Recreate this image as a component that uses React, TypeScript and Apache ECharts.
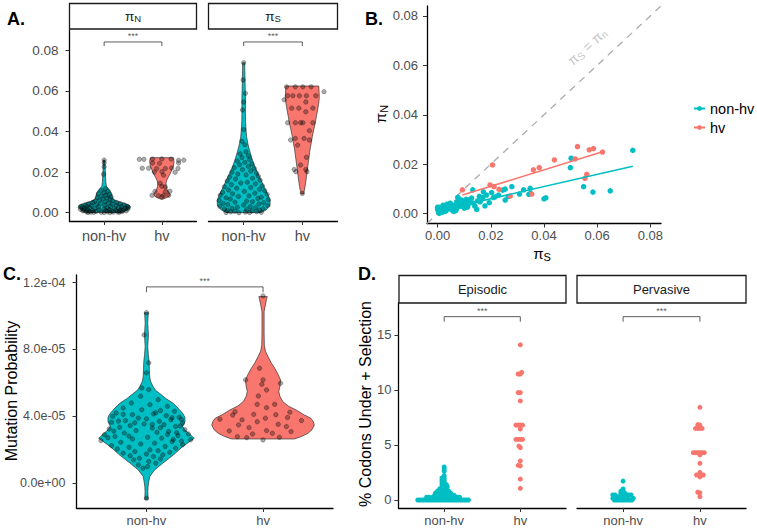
import React, { useEffect, useRef } from 'react';
import * as echarts from 'echarts';

const TEAL = '#00BFC4';
const RED = '#F8766D';
const FONT = "'Liberation Sans', Arial, Helvetica, sans-serif";

const CATS = ['non-hv', 'hv'];
const PI_TICKS = [0, 0.02, 0.04, 0.06, 0.08];
const MUT_TICKS = [0, 4e-5, 8e-5, 1.2e-4];
const PCT_TICKS = [0, 5, 10, 15];

// ---------- Panel A: violin outlines [value, half width in category units] ----------
const violinPiNNonhv = [[0.0001,0.32],[0.0008,0.37],[0.0015,0.41],[0.0025,0.45],[0.0035,0.44],[0.0045,0.36],[0.0055,0.24],[0.0065,0.16],[0.008,0.14],[0.0095,0.13],[0.011,0.10],[0.012,0.07],[0.013,0.04],[0.015,0.03],[0.018,0.025],[0.022,0.018],[0.0259,0.01]];
const violinPiNHv = [[0.0066,0.01],[0.0071,0.06],[0.0080,0.12],[0.0090,0.14],[0.0100,0.12],[0.0115,0.09],[0.0130,0.075],[0.0145,0.072],[0.0160,0.085],[0.0177,0.115],[0.0195,0.15],[0.0210,0.17],[0.0230,0.2],[0.0250,0.21],[0.0265,0.205],[0.0271,0.2]];
const violinPiSNonhv = [[0.0000,0.29],[0.0013,0.38],[0.0037,0.45],[0.0062,0.45],[0.0085,0.42],[0.0103,0.39],[0.0125,0.35],[0.0145,0.32],[0.0170,0.28],[0.0194,0.24],[0.0220,0.2],[0.0243,0.17],[0.0268,0.14],[0.0293,0.115],[0.0318,0.09],[0.0342,0.07],[0.0375,0.05],[0.0408,0.04],[0.0450,0.032],[0.0489,0.03],[0.0530,0.03],[0.0571,0.03],[0.0610,0.026],[0.0654,0.023],[0.0700,0.02],[0.0739,0.017]];
const violinPiSHv = [[0.0092,0.02],[0.0110,0.035],[0.0128,0.046],[0.0150,0.058],[0.0177,0.07],[0.0210,0.085],[0.0243,0.10],[0.0275,0.115],[0.0309,0.13],[0.0340,0.15],[0.0374,0.17],[0.0410,0.195],[0.0440,0.22],[0.0475,0.24],[0.0506,0.26],[0.0540,0.28],[0.0571,0.29],[0.0600,0.285],[0.0624,0.28]];

// ---------- Panel A: points [jitter, value] ----------
const piNNonhv = [[0,0.0259],[0,0.0246],[0,0.0226],[-0.01,0.0189],[0.02,0.0118],[-0.05,0.0110],[0.06,0.0104],[0,0.0098],[-0.10,0.0093],[0.09,0.0090],[0.03,0.0086],[-0.04,0.0082],[0.12,0.0078],[-0.12,0.0075],[0.05,0.0072],[-0.02,0.0068],[0.10,0.0065],[-0.08,0.0062],[0.15,0.0058],[-0.16,0.0056],[0.02,0.0054],[0.22,0.0050],[-0.20,0.0050],[0.08,0.0048],[-0.06,0.0046],[0.28,0.0044],[-0.27,0.0043],[0.14,0.0042],[-0.13,0.0041],[0.35,0.0038],[-0.33,0.0037],[0.01,0.0037],[0.21,0.0036],[-0.22,0.0035],[0.40,0.0032],[-0.40,0.0031],[0.30,0.0030],[-0.30,0.0030],[0.11,0.0029],[-0.10,0.0028],[0.42,0.0027],[-0.38,0.0026],[0.25,0.0025],[-0.25,0.0024],[0.05,0.0024],[0.36,0.0022],[-0.34,0.0021],[0.18,0.0020],[-0.17,0.0020],[0,0.0019],[0.41,0.0018],[-0.41,0.0017],[0.29,0.0016],[-0.29,0.0016],[0.09,0.0015],[-0.09,0.0014],[0.33,0.0013],[-0.35,0.0012],[0.20,0.0012],[-0.20,0.0011],[0.03,0.0010],[0.38,0.0009],[-0.37,0.0009],[0.27,0.0008],[-0.26,0.0007],[0.13,0.0007],[-0.14,0.0006],[0.31,0.0005],[-0.31,0.0005],[0.06,0.0005],[0.23,0.0004],[-0.23,0.0003],[0.16,0.0003],[-0.05,0.0002],[0.26,0.0002],[-0.18,0.0002],[0.10,0.0001],[-0.28,0.0001],[0,0.0001]];
const piNHv = [[-0.39,0.0263],[-0.31,0.0263],[-0.16,0.0264],[0,0.0265],[0.16,0.0264],[0.38,0.0259],[0.29,0.0258],[-0.16,0.0245],[-0.04,0.0243],[0.29,0.0245],[-0.34,0.0219],[-0.23,0.0219],[-0.09,0.0218],[0.06,0.0218],[0.17,0.0220],[0.28,0.0218],[-0.13,0.0200],[0,0.0202],[0.23,0.0199],[0.03,0.0185],[-0.03,0.0145],[0,0.0130],[0.06,0.0127],[-0.12,0.0105],[0.06,0.0103],[0.14,0.0106],[-0.17,0.0086],[-0.06,0.0084],[0.03,0.0085],[0.12,0.0086],[0,0.0078]];
const piSNonhv = [[0,0.0739],[-0.01,0.0654],[0.03,0.0588],[0,0.0545],[-0.02,0.0506],[0,0.0410],[-0.03,0.0352],[0.02,0.0335],[0.04,0.0300],[-0.06,0.0290],[0.08,0.0280],[-0.03,0.0272],[0.10,0.0262],[-0.11,0.0255],[0.02,0.0248],[0.14,0.0240],[-0.07,0.0236],[0.08,0.0228],[-0.16,0.0222],[0.18,0.0218],[-0.02,0.0212],[0.12,0.0205],[-0.20,0.0200],[0.22,0.0195],[-0.10,0.0190],[0.04,0.0186],[0.25,0.0180],[-0.24,0.0176],[0.15,0.0170],[-0.14,0.0166],[0.28,0.0160],[-0.28,0.0156],[0.06,0.0150],[-0.05,0.0146],[0.20,0.0142],[-0.21,0.0138],[0.32,0.0132],[-0.33,0.0128],[0.12,0.0124],[-0.12,0.0120],[0.27,0.0115],[-0.26,0.0112],[0.36,0.0108],[0.01,0.0104],[-0.36,0.0100],[0.19,0.0096],[-0.19,0.0093],[0.40,0.0090],[-0.40,0.0086],[0.09,0.0083],[-0.09,0.0080],[0.30,0.0076],[-0.30,0.0073],[0.24,0.0070],[-0.23,0.0067],[0.42,0.0064],[-0.42,0.0060],[0.05,0.0057],[0.15,0.0054],[-0.15,0.0052],[0.34,0.0049],[-0.35,0.0046],[0.26,0.0043],[-0.27,0.0040],[0,0.0038],[0.41,0.0035],[-0.41,0.0032],[0.11,0.0030],[-0.11,0.0027],[0.20,0.0025],[-0.20,0.0022],[0.33,0.0020],[-0.33,0.0018],[0.05,0.0015],[0.27,0.0013],[-0.28,0.0011],[0.14,0.0009],[-0.15,0.0007],[0.22,0.0005],[-0.22,0.0004],[0.03,0.0003],[0.30,0.0002],[-0.30,0.0001],[0.10,0.0001],[-0.08,0.0000]];
const piSHv = [[-0.27,0.0620],[-0.12,0.0620],[0.01,0.0620],[0.15,0.0620],[0.37,0.0596],[-0.25,0.0576],[-0.16,0.0576],[-0.05,0.0576],[0.07,0.0576],[0.23,0.0576],[-0.31,0.0556],[0.06,0.0545],[-0.18,0.0515],[-0.06,0.0515],[0.18,0.0515],[0.06,0.0497],[-0.25,0.0443],[-0.12,0.0443],[-0.03,0.0443],[0.01,0.0443],[0.18,0.0443],[0.12,0.0404],[-0.12,0.0366],[0.03,0.0366],[-0.20,0.0358],[0.12,0.0358],[-0.08,0.0333],[0.07,0.0273],[-0.03,0.0235],[-0.14,0.0213],[0.06,0.0213],[-0.11,0.0202],[0.08,0.0202],[0,0.0095]];
const bracketA = [1, 2, 0.0841, 0.0821];

// ---------- Panel B: [piS, piN] ----------
const bNonhv = [[0.0734,0.0256],[0.0502,0.0224],[0.0499,0.0186],[0.0549,0.0109],[0.0584,0.0087],[0.0649,0.0092],[0.0407,0.0064],[0.0400,0.0060],[0.0348,0.0102],[0.0350,0.0082],[0.0343,0.0078],[0.0323,0.0096],[0.0308,0.0079],[0.0279,0.0109],[0.0254,0.0099],[0.0254,0.0055],[0.0245,0.0095],[0.0229,0.0075],[0.0216,0.0068],[0.0203,0.0085],[0.0210,0.0065],[0.0184,0.0075],[0.0172,0.0088],[0.0170,0.0065],[0.0160,0.0048],[0.0157,0.0070],[0.0147,0.0017],[0.0132,0.0096],[0.0122,0.0058],[0.0115,0.0036],[0.0103,0.0048],[0.0090,0.0055],[0.0084,0.0044],[0.0072,0.0048],[0.0078,0.0031],[0.0065,0.0035],[0.0057,0.0026],[0.0047,0.0042],[0.0040,0.0021],[0.0034,0.0031],[0.0024,0.0017],[0.0015,0.0012],[0.0009,0.0026],[0.0003,0.0008],[0.0000,0.0026],[0.0000,0.0017],[0.0006,0.0001],[0.0019,0.0006],[0.0032,0.0012],[0.0053,0.0015],[0.0061,0.0021],[0.0072,0.0021],[0.0078,0.0062],[0.0076,0.0066],[0.0128,0.0063],[0.0107,0.0058],[0.0097,0.0038],[0.0112,0.0026],[0.0134,0.0042],[0.0178,0.0031],[0.0194,0.0044],[0.0266,0.0069],[0.0012,0.0021],[0.0028,0.0009],[0.0045,0.0028],[0.0052,0.0036],[0.0068,0.0012],[0.0086,0.0030],[0.0100,0.0022],[0.0021,0.0034],[0.0036,0.0038],[0.0060,0.0009],[0.0118,0.0045],[0.0140,0.0030],[0.0150,0.0052]];
const bHv = [[0.0526,0.0271],[0.0570,0.0258],[0.0586,0.0263],[0.0620,0.0249],[0.0517,0.0221],[0.0439,0.0217],[0.0382,0.0186],[0.0360,0.0177],[0.0206,0.0197],[0.0561,0.0159],[0.0554,0.0143],[0.0197,0.0116],[0.0212,0.0109],[0.0093,0.0096],[0.0231,0.0098],[0.0273,0.0071],[0.0354,0.0079]];
const nonhvFit = [[0.0, 0.0011], [0.0734, 0.0192]];
const hvFit = [[0.0093, 0.0075], [0.0620, 0.0250]];
const identityLine = [[-0.004, -0.004], [0.084, 0.084]];
const identityLabelAt = [0.0562, 0.0676];

// ---------- Panel C ----------
const violinMutNonhv = [[-9.6e-6,0.014],[-5e-6,0.012],[-2e-6,0.014],[1e-6,0.02],[4e-6,0.028],[8e-6,0.07],[1.2e-5,0.14],[1.69e-5,0.23],[2.19e-5,0.31],[2.69e-5,0.41],[2.95e-5,0.37],[3.19e-5,0.33],[3.4e-5,0.31],[3.68e-5,0.33],[3.95e-5,0.33],[4.19e-5,0.31],[4.5e-5,0.27],[4.78e-5,0.23],[5.05e-5,0.17],[5.28e-5,0.13],[5.55e-5,0.08],[5.78e-5,0.057],[6.1e-5,0.035],[6.37e-5,0.028],[6.8e-5,0.025],[7.27e-5,0.023],[7.7e-5,0.016],[8.17e-5,0.011],[8.5e-5,0.014],[8.87e-5,0.017],[9.2e-5,0.014],[9.57e-5,0.011],[1.0e-4,0.014],[1.02e-4,0.017]];
const violinMutHv = [[2.65e-5,0.27],[2.8e-5,0.33],[2.99e-5,0.385],[3.2e-5,0.42],[3.49e-5,0.44],[3.7e-5,0.43],[3.89e-5,0.41],[4.1e-5,0.35],[4.38e-5,0.285],[4.6e-5,0.22],[4.88e-5,0.17],[5.2e-5,0.145],[5.48e-5,0.135],[5.8e-5,0.145],[6.18e-5,0.15],[6.5e-5,0.13],[6.88e-5,0.10],[7.2e-5,0.07],[7.57e-5,0.043],[7.9e-5,0.02],[8.27e-5,0.011],[9e-5,0.009],[9.47e-5,0.009],[1.0e-4,0.009],[1.026e-4,0.009],[1.066e-4,0.02],[1.1e-4,0.03],[1.116e-4,0.036]];
const mutNonhv = [[0,1.02e-4],[-0.02,8.87e-5],[0.02,7.2e-5],[0,6.6e-5],[-0.04,5.7e-5],[0,-9e-6],[0.02,5.6e-5],[-0.05,5.2e-5],[0.10,5.0e-5],[-0.13,4.8e-5],[0.03,4.7e-5],[0.18,4.6e-5],[-0.20,4.5e-5],[-0.04,4.4e-5],[0.12,4.35e-5],[0.24,4.3e-5],[-0.26,4.2e-5],[0.06,4.15e-5],[-0.12,4.1e-5],[0.17,4.05e-5],[-0.29,4.0e-5],[0.28,3.95e-5],[-0.07,3.9e-5],[0,3.85e-5],[0.21,3.8e-5],[-0.18,3.75e-5],[0.11,3.7e-5],[-0.30,3.65e-5],[0.31,3.6e-5],[-0.02,3.55e-5],[0.15,3.5e-5],[-0.14,3.45e-5],[0.25,3.4e-5],[-0.23,3.35e-5],[0.05,3.3e-5],[-0.32,3.25e-5],[0.33,3.2e-5],[-0.09,3.15e-5],[0.19,3.1e-5],[0.09,3.05e-5],[-0.19,3.0e-5],[0.36,2.95e-5],[-0.36,2.9e-5],[0.27,2.85e-5],[-0.27,2.8e-5],[0.01,2.75e-5],[0.13,2.7e-5],[-0.12,2.65e-5],[0.38,2.6e-5],[-0.39,2.55e-5],[0.22,2.5e-5],[-0.22,2.45e-5],[0.07,2.4e-5],[-0.05,2.35e-5],[0.31,2.3e-5],[-0.30,2.25e-5],[0.16,2.2e-5],[-0.15,2.15e-5],[0.25,2.1e-5],[-0.25,2.05e-5],[0.03,2.0e-5],[0.10,1.95e-5],[-0.10,1.9e-5],[0.20,1.85e-5],[-0.20,1.8e-5],[0,1.75e-5],[0.14,1.7e-5],[-0.14,1.65e-5],[0.06,1.6e-5],[-0.06,1.5e-5],[0.12,1.45e-5],[-0.11,1.4e-5],[0.02,1.3e-5],[0.08,1.2e-5],[-0.07,1.1e-5],[0.01,1.0e-5],[-0.03,0.9e-5],[0.22,3.92e-5],[-0.24,3.72e-5],[0.05,3.52e-5],[0.12,3.32e-5],[-0.28,3.12e-5],[0.18,2.92e-5],[-0.33,2.72e-5],[0.30,2.52e-5],[-0.10,3.62e-5],[0.29,3.42e-5],[0.26,3.02e-5],[-0.15,2.82e-5],[0.23,2.62e-5],[0.08,4.22e-5],[-0.20,4.12e-5],[0.30,3.82e-5]];
const mutHv = [[0,1.12e-4],[-0.03,6.88e-5],[-0.15,6.18e-5],[0.15,5.98e-5],[0,6.18e-5],[-0.01,5.92e-5],[0.03,5.58e-5],[-0.04,5.22e-5],[-0.05,4.72e-5],[0.10,4.72e-5],[0.03,4.52e-5],[-0.24,4.28e-5],[-0.26,4.08e-5],[-0.08,4.12e-5],[0.23,4.25e-5],[0.11,4.10e-5],[-0.37,3.83e-5],[-0.18,3.79e-5],[0.02,3.89e-5],[0.21,3.93e-5],[0.33,3.75e-5],[-0.21,3.49e-5],[-0.05,3.68e-5],[-0.12,3.33e-5],[0.13,3.53e-5],[0.20,3.39e-5],[-0.29,3.13e-5],[0.03,3.15e-5],[0.24,3.09e-5],[0.08,2.99e-5],[-0.09,2.95e-5],[-0.22,2.79e-5],[-0.14,2.73e-5],[0.14,2.75e-5],[0,2.59e-5]];
const bracketC = [1, 2, 1.174e-4, 1.142e-4];

// ---------- Panel D: % codons under positive selection ----------
const episodicNonhv = [0,0,0,0,0,0,0,0,0,0,0,0,0,0,0,0,0,0,0,0,0,0,0,0,0.2,0.2,0.2,0.2,0.2,0.2,0.22,0.22,0.22,0.22,0.22,0.22,0.25,0.25,0.25,0.25,0.38,0.38,0.38,0.38,0.38,0.42,0.42,0.42,0.42,0.42,0.58,0.58,0.58,0.58,0.62,0.62,0.62,0.62,0.78,0.78,0.78,0.82,0.82,0.82,0.98,0.98,1.02,1.02,1.2,1.2,1.2,1.4,1.4,1.4,1.6,1.6,1.8,1.8,2.0,2.0,2.2,2.6,2.8,3.0];
const episodicHv = [14.1,11.6,11.45,11.45,9.76,9.76,9.0,6.8,6.8,6.8,6.8,6.45,5.5,5.5,5.5,5.5,4.9,4.75,3.55,3.15,3.1,1.9,1.06];
const pervasiveNonhv = [0,0,0,0,0,0,0,0,0,0.15,0.15,0.3,0.3,0.3,0.3,0.3,0.3,0.45,0.45,0.45,0.45,0.6,0.6,0.6,0.8,0.8,1.0,1.72];
const pervasiveHv = [8.42,6.85,6.8,6.5,6.5,6.5,6.5,4.3,4.3,4.3,4.3,4.3,4.3,4.1,3.33,2.5,2.27,2.27,2.27,2.27,2.1,0.7,0.65,0.3];
const bracketD = [1, 2, 16.66, 16.2];

// ---------- layout ----------
const GRIDS = [
  { left: 69.5, top: 30, width: 127, height: 191 },
  { left: 208.5, top: 30, width: 129, height: 191 },
  { left: 427, top: 6, width: 234, height: 217.5 },
  { left: 76.5, top: 275, width: 256.5, height: 233 },
  { left: 398.5, top: 303, width: 167.5, height: 205 },
  { left: 577, top: 303, width: 169, height: 205 },
];
const A_Y = [-0.0041, 0.09];
const B_RANGE = [-0.004, 0.084];
const C_Y = [-1.477e-5, 1.245e-4];
const D_Y = [-0.73, 17.9];
const CAT_RANGE = [0.4, 2.6];

const fmtPi = (v: number) => v.toFixed(2);
const fmtSci = (v: number) => {
  const [m, e] = v.toExponential(1).split('e');
  return m + 'e' + e[0] + e.slice(1).padStart(2, '0');
};
const fmtCat = (v: number) => CATS[Math.round(v) - 1];

function axis(gridIndex: number, range: number[], ticks: number[], fmt: any, o: any = {}) {
  return {
    type: 'value', gridIndex, min: range[0], max: range[1], show: o.show !== false,
    splitLine: { show: false },
    axisLine: { show: true, onZero: false, lineStyle: { color: '#000', width: 1.3 } },
    axisTick: { show: true, customValues: ticks, length: 4, lineStyle: { color: '#333', width: 1 } },
    axisLabel: { show: true, customValues: ticks, formatter: fmt, color: '#4D4D4D', fontSize: o.fs || 13, margin: o.margin ?? 7, fontFamily: FONT },
  };
}

function violins(gi: number, profiles: number[][][], colors: string[]) {
  return {
    type: 'custom', xAxisIndex: gi, yAxisIndex: gi, silent: true, z: 1,
    data: profiles.map((p, i) => [i + 1, p[0][0]]),
    renderItem: (params: any, api: any) => {
      const prof = profiles[params.dataIndex];
      const c = params.dataIndex + 1;
      const left = prof.map(([v, w]) => api.coord([c - w, v]));
      const right = prof.slice().reverse().map(([v, w]) => api.coord([c + w, v]));
      return { type: 'polygon', shape: { points: left.concat(right) }, style: { fill: colors[params.dataIndex], stroke: '#333', lineWidth: 0.7 } };
    },
  };
}

function jitterPts(gi: number, groups: number[][][]) {
  const data: number[][] = [];
  groups.forEach((g, i) => g.forEach(([j, v]) => data.push([i + 1 + j, v])));
  return {
    type: 'scatter', xAxisIndex: gi, yAxisIndex: gi, silent: true, z: 3, symbolSize: 4.5, data,
    itemStyle: { color: 'rgba(0,0,0,0.32)', borderColor: 'rgba(0,0,0,0.5)', borderWidth: 0.5, opacity: 1 },
  };
}

function bracket(gi: number, b: number[]) {
  const [x1, x2, top, bot] = b;
  return [
    { type: 'line', xAxisIndex: gi, yAxisIndex: gi, silent: true, symbol: 'none', z: 2,
      data: [[x1, bot], [x1, top], [x2, top], [x2, bot]], lineStyle: { color: '#333', width: 0.8 } },
    { type: 'scatter', xAxisIndex: gi, yAxisIndex: gi, silent: true, symbolSize: 0, z: 2,
      data: [[(x1 + x2) / 2, top]],
      label: { show: true, position: 'top', distance: 1, formatter: '***', fontSize: 9, color: '#333', fontFamily: FONT } },
  ];
}

// simple swarm layout (pixel space), returns x offsets in category units
function swarm(values: number[], pxY: number, pxX: number, spacing: number) {
  const order = values.map((_, i) => i).sort((a, b) => values[a] - values[b]);
  const placed: { x: number; y: number }[] = [];
  const offs = new Array(values.length).fill(0);
  const s2 = spacing * spacing;
  for (const i of order) {
    const y = values[i] * pxY;
    const cands = [0];
    for (const p of placed) {
      const dy = Math.abs(p.y - y);
      if (dy < spacing) { const dx = Math.sqrt(s2 - dy * dy); cands.push(p.x + dx, p.x - dx); }
    }
    cands.sort((a, b) => Math.abs(a) - Math.abs(b) || a - b);
    for (const c of cands) {
      if (placed.every((p) => (p.x - c) ** 2 + (p.y - y) ** 2 >= s2 - 1e-6)) { offs[i] = c / pxX; placed.push({ x: c, y }); break; }
    }
  }
  return offs;
}

function swarmSeries(gi: number, values: number[], center: number, color: string) {
  const g = GRIDS[gi];
  const pxY = g.height / (D_Y[1] - D_Y[0]);
  const pxX = g.width / (CAT_RANGE[1] - CAT_RANGE[0]);
  const offs = swarm(values, pxY, pxX, 2.2);
  return {
    type: 'scatter', xAxisIndex: gi, yAxisIndex: gi, silent: true, z: 3, symbolSize: 5,
    itemStyle: { color, opacity: 1 },
    data: values.map((v, i) => [center + offs[i], v]),
  };
}

const piRich = (big: number, small: number, pad: number, color: string) => ({
  p: { fontSize: big, fill: color, color, fontFamily: FONT },
  s: { fontSize: small, fill: color, color, fontFamily: FONT, padding: [pad, 0, 0, 0] },
});

function buildOption() {
  const series: any[] = [];
  // A1
  series.push(violins(0, [violinPiNNonhv, violinPiNHv], [TEAL, RED]));
  series.push(jitterPts(0, [piNNonhv, piNHv]));
  series.push(...bracket(0, bracketA));
  // A2
  series.push(violins(1, [violinPiSNonhv, violinPiSHv], [TEAL, RED]));
  series.push(jitterPts(1, [piSNonhv, piSHv]));
  series.push(...bracket(1, bracketA));
  // B
  series.push({ type: 'line', xAxisIndex: 2, yAxisIndex: 2, silent: true, symbol: 'none', z: 1, data: identityLine,
    lineStyle: { color: '#ABABAB', width: 1.3, type: [7, 6] } });
  series.push({ type: 'scatter', name: 'non-hv pts', xAxisIndex: 2, yAxisIndex: 2, silent: true, symbolSize: 5.5, z: 3, data: bNonhv, itemStyle: { color: TEAL, opacity: 1 } });
  series.push({ type: 'scatter', name: 'hv pts', xAxisIndex: 2, yAxisIndex: 2, silent: true, symbolSize: 5.5, z: 3, data: bHv, itemStyle: { color: RED, opacity: 1 } });
  series.push({ type: 'line', name: 'non-hv', xAxisIndex: 2, yAxisIndex: 2, silent: true, symbol: 'circle', symbolSize: 6, showSymbol: false, z: 4, data: nonhvFit,
    itemStyle: { color: TEAL }, lineStyle: { color: TEAL, width: 1.6 } });
  series.push({ type: 'line', name: 'hv', xAxisIndex: 2, yAxisIndex: 2, silent: true, symbol: 'circle', symbolSize: 6, showSymbol: false, z: 4, data: hvFit,
    itemStyle: { color: RED }, lineStyle: { color: RED, width: 1.6 } });
  series.push({ type: 'scatter', xAxisIndex: 2, yAxisIndex: 2, silent: true, symbolSize: 0, z: 2, data: [identityLabelAt],
    label: { show: true, position: 'inside', rotate: 42.9, formatter: '{p|π}{s|S}{p| = π}{s|n}', rich: piRich(14, 10, 6, '#B5B5B5') } });
  // C
  series.push(violins(3, [violinMutNonhv, violinMutHv], [TEAL, RED]));
  series.push(jitterPts(3, [mutNonhv, mutHv]));
  series.push(...bracket(3, bracketC));
  // D
  series.push(swarmSeries(4, episodicNonhv, 1, TEAL));
  series.push(swarmSeries(4, episodicHv, 2, RED));
  series.push(...bracket(4, bracketD));
  series.push(swarmSeries(5, pervasiveNonhv, 1, TEAL));
  series.push(swarmSeries(5, pervasiveHv, 2, RED));
  series.push(...bracket(5, bracketD));

  const txt = (x: number, y: number, text: string, o: any = {}) => ({
    type: 'text', x, y, rotation: o.rot || 0, silent: true, z: 10,
    style: { text, fontSize: o.fs || 13, fontWeight: o.fw || 'normal', fontFamily: FONT, fill: o.color || '#000',
      align: o.align || 'center', verticalAlign: 'middle', rich: o.rich },
  });
  const strip = (x: number, y: number, w: number, h: number) => ({
    type: 'rect', silent: true, z: 9, shape: { x, y, width: w, height: h }, style: { fill: '#fff', stroke: '#1A1A1A', lineWidth: 1.3 },
  });

  const graphic = [
    txt(7, 19, 'A.', { fs: 18, fw: 'bold', align: 'left' }),
    txt(365, 19, 'B.', { fs: 18, fw: 'bold', align: 'left' }),
    txt(3, 274, 'C.', { fs: 18, fw: 'bold', align: 'left' }),
    txt(358, 274, 'D.', { fs: 18, fw: 'bold', align: 'left' }),
    strip(69.5, 3.5, 127, 25.5), txt(133, 16, '{p|π}{s|N}', { rich: piRich(13.5, 9.5, 5, '#1A1A1A') }),
    strip(208.5, 3.5, 129, 25.5), txt(273, 16, '{p|π}{s|S}', { rich: piRich(13.5, 9.5, 5, '#1A1A1A') }),
    strip(399, 275.5, 167, 27.5), txt(482.5, 289, 'Episodic', { fs: 13, color: '#1A1A1A' }),
    strip(577, 275.5, 169, 27.5), txt(661.5, 289, 'Pervasive', { fs: 13, color: '#1A1A1A' }),
    txt(380, 114, '{p|π}{s|N}', { rot: Math.PI / 2, rich: piRich(15, 11, 7, '#000') }),
    txt(542, 253, '{p|π}{s|S}', { rich: piRich(15, 11, 7, '#000') }),
    txt(11, 391, 'Mutation Probability', { rot: Math.PI / 2, fs: 16 }),
    txt(365, 404, '% Codons Under + Selection', { rot: Math.PI / 2, fs: 16 }),
  ];

  return {
    animation: false,
    textStyle: { fontFamily: FONT },
    grid: GRIDS.map((g) => ({ ...g, outerBoundsMode: 'none', containLabel: false })),
    xAxis: [
      axis(0, CAT_RANGE, [1, 2], fmtCat, { fs: 14.5, margin: 7 }),
      axis(1, CAT_RANGE, [1, 2], fmtCat, { fs: 14.5, margin: 7 }),
      axis(2, B_RANGE, PI_TICKS, fmtPi, { margin: 5 }),
      axis(3, CAT_RANGE, [1, 2], fmtCat, { margin: 6 }),
      axis(4, CAT_RANGE, [1, 2], fmtCat, { margin: 6 }),
      axis(5, CAT_RANGE, [1, 2], fmtCat, { margin: 6 }),
    ],
    yAxis: [
      axis(0, A_Y, PI_TICKS, fmtPi, { fs: 13.5, margin: 11 }),
      axis(1, A_Y, PI_TICKS, fmtPi, { show: false }),
      axis(2, B_RANGE, PI_TICKS, fmtPi, { margin: 9 }),
      axis(3, C_Y, MUT_TICKS, fmtSci, { fs: 12.5, margin: 11 }),
      axis(4, D_Y, PCT_TICKS, (v: number) => String(v), { margin: 7 }),
      axis(5, D_Y, PCT_TICKS, (v: number) => String(v), { show: false }),
    ],
    legend: {
      data: ['non-hv', 'hv'], orient: 'vertical', left: 688, top: 96, itemWidth: 11, itemHeight: 6, itemGap: 4,
      selectedMode: false, textStyle: { fontSize: 14.5, color: '#000', fontFamily: FONT },
    },
    series,
    graphic,
  };
}

export default function App() {
  const ref = useRef<HTMLDivElement>(null);
  useEffect(() => {
    document.body.style.margin = '0';
    const chart = echarts.init(ref.current as HTMLDivElement, null, { renderer: 'svg' });
    chart.setOption(buildOption() as any);
    return () => chart.dispose();
  }, []);
  return <div ref={ref} style={{ position: 'absolute', left: 0, top: 0, width: 757, height: 529 }} />;
}
